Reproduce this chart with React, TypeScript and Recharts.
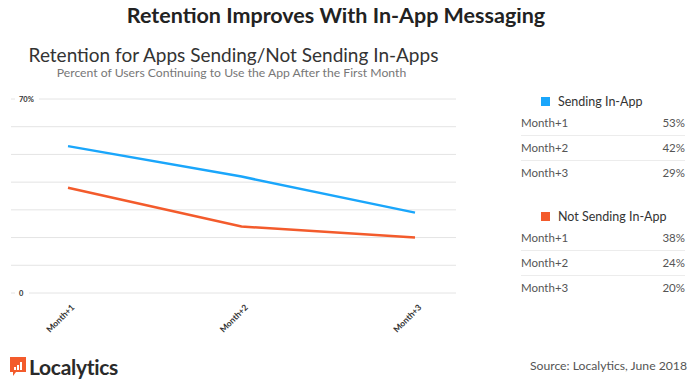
import { LineChart, Line, XAxis, YAxis, CartesianGrid } from 'recharts';

const months = ['Month+1', 'Month+2', 'Month+3'];
const sending = [53, 42, 29];
const notSending = [38, 24, 20];
const yTicks = [0, 10, 20, 30, 40, 50, 60, 70];

const BLUE = '#1aa6fb';
const ORANGE = '#f35b2c';
const FONT = 'Lato, "Open Sans", sans-serif';

const data = months.map((m, i) => ({ month: m, sending: sending[i], notSending: notSending[i] }));

const yLabel = (v: number) => (v === 0 ? '0' : v === 70 ? '70%' : '');

// y labels sit on the grid line, with a white patch behind them
const renderYTick = (props: any) => {
  const { y, payload } = props;
  const label = yLabel(Number(payload.value));
  if (!label) return <g />;
  const w = label.length * 5 + 9;
  return (
    <g>
      <rect x={15} y={y - 5} width={w} height={10} fill="#fff" />
      <text x={19} y={y + 3} fontSize={7.5} fontWeight={700} fill="#333" fontFamily={FONT}>
        {label}
      </text>
    </g>
  );
};

const renderXTick = (props: any) => {
  const { x, y, payload } = props;
  const tx = x + 7;
  const ty = y + 7;
  return (
    <text
      x={tx}
      y={ty}
      transform={`rotate(-45, ${tx}, ${ty})`}
      textAnchor="end"
      fontSize={8.5}
      fontWeight={700}
      fill="#333"
      fontFamily={FONT}
    >
      {payload.value}
    </text>
  );
};

function Table({ title, color, values, top }: { title: string; color: string; values: number[]; top: number }) {
  return (
    <div style={{ position: 'absolute', left: 521, top, width: 164 }}>
      <div style={{ display: 'flex', alignItems: 'center', marginLeft: 20, height: 16 }}>
        <div style={{ width: 9, height: 9, background: color, marginRight: 8 }} />
        <span style={{ fontSize: 12.5, color: '#333' }}>{title}</span>
      </div>
      <div style={{ marginTop: 2 }}>
        {months.map((m, i) => (
          <div
            key={m}
            style={{
              display: 'flex',
              justifyContent: 'space-between',
              height: 25,
              lineHeight: '24px',
              fontSize: 11.5,
              color: '#555',
              borderBottom: i < months.length - 1 ? '1px solid #ececec' : 'none',
              boxSizing: 'border-box',
            }}
          >
            <span>{m}</span>
            <span>{values[i]}%</span>
          </div>
        ))}
      </div>
    </div>
  );
}

export default function App() {
  return (
    <div
      style={{
        position: 'relative',
        width: 700,
        height: 388,
        margin: -8,
        background: '#fff',
        fontFamily: FONT,
        overflow: 'hidden',
      }}
    >
      <div
        style={{
          position: 'absolute',
          top: 2,
          left: 0,
          width: 672,
          textAlign: 'center',
          fontSize: 21.5,
          fontWeight: 700,
          color: '#222',
        }}
      >
        Retention Improves With In-App Messaging
      </div>
      <div
        style={{ position: 'absolute', top: 43, left: 0, width: 467, textAlign: 'center', fontSize: 19, color: '#333' }}
      >
        Retention for Apps Sending/Not Sending In-Apps
      </div>
      <div
        style={{ position: 'absolute', top: 65, left: 0, width: 463, textAlign: 'center', fontSize: 12.2, color: '#777' }}
      >
        Percent of Users Continuing to Use the App After the First Month
      </div>

      <div style={{ position: 'absolute', left: 0, top: 80 }}>
        <LineChart width={470} height={260} data={data} margin={{ top: 19, right: 14, left: 0, bottom: 0 }}>
          <CartesianGrid vertical={false} stroke="#e4e4e4" strokeWidth={1} />
          <XAxis
            dataKey="month"
            padding={{ left: 57, right: 41 }}
            axisLine={false}
            tickLine={false}
            height={47}
            interval={0}
            tick={renderXTick}
          />
          <YAxis
            width={11}
            type="number"
            domain={[0, 70]}
            ticks={yTicks}
            interval={0}
            axisLine={false}
            tickLine={false}
            tick={renderYTick}
          />
          <Line dataKey="sending" stroke={BLUE} strokeWidth={2.5} dot={false} isAnimationActive={false} />
          <Line dataKey="notSending" stroke={ORANGE} strokeWidth={2.5} dot={false} isAnimationActive={false} />
        </LineChart>
      </div>

      <Table title="Sending In-App" color={BLUE} values={sending} top={93} />
      <Table title="Not Sending In-App" color={ORANGE} values={notSending} top={208} />

      <div style={{ position: 'absolute', left: 10, top: 354, display: 'flex', alignItems: 'center' }}>
        <svg width={16} height={20} style={{ marginRight: 3 }}>
          <path d="M0 0 H16 V15 H6 L3 19 V15 H0 Z" fill={ORANGE} />
          <rect x={4} y={10} width={2} height={3} fill="#fff" />
          <rect x={7} y={8} width={2} height={5} fill="#fff" />
          <rect x={10} y={5} width={2} height={8} fill="#fff" />
        </svg>
        <span style={{ fontSize: 21, fontWeight: 700, color: '#2a2a2a', letterSpacing: -0.3 }}>Localytics</span>
      </div>
      <div style={{ position: 'absolute', right: 13, top: 358, fontSize: 12.2, color: '#555' }}>
        Source: Localytics, June 2018
      </div>
    </div>
  );
}
